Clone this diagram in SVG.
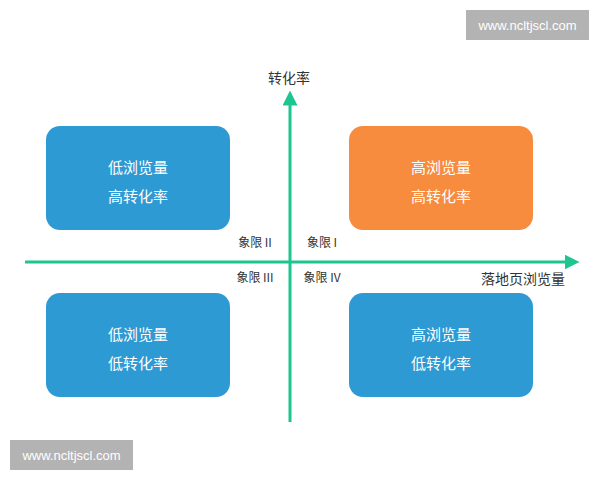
<svg xmlns="http://www.w3.org/2000/svg" width="600" height="480" viewBox="0 0 600 480">
<defs>
<style>
.box{fill:#2e9ad4}
.bt{fill:#fff;font-family:"Noto Sans CJK SC","Noto Sans",sans-serif;font-size:15px;text-anchor:middle}
.lb{fill:#333;font-family:"Noto Sans CJK SC","Noto Sans",sans-serif;font-size:12px;text-anchor:middle}
.ax{stroke:#1ec58f;stroke-width:3;fill:none}
.wm{fill:#fff;font-family:"Liberation Sans",sans-serif;font-size:13px;text-anchor:middle}
</style>
<marker id="ah" viewBox="0 0 10 10" refX="5" refY="5" markerWidth="5" markerHeight="5" orient="auto"><path d="M0,0L10,5L0,10z" fill="#1ec58f"/></marker>
</defs>
<rect width="600" height="480" fill="#fff"/>
<g id="connectors">
<line class="ax" x1="290" y1="422" x2="290" y2="98" marker-end="url(#ah)"/>
<line class="ax" x1="25" y1="262" x2="572" y2="262" marker-end="url(#ah)"/>
</g>
<g id="tl"><rect class="box" x="46" y="126" width="184" height="104" rx="14"/><text class="bt" x="138" y="173">低浏览量</text><text class="bt" x="138" y="202">高转化率</text></g>
<g id="tr"><rect x="349" y="126" width="184" height="104" rx="14" fill="#f78b3e"/><text class="bt" x="441" y="173">高浏览量</text><text class="bt" x="441" y="202">高转化率</text></g>
<g id="bl"><rect class="box" x="46" y="293" width="184" height="104" rx="14"/><text class="bt" x="138" y="340">低浏览量</text><text class="bt" x="138" y="369">低转化率</text></g>
<g id="br"><rect class="box" x="349" y="293" width="184" height="104" rx="14"/><text class="bt" x="441" y="340">高浏览量</text><text class="bt" x="441" y="369">低转化率</text></g>
<g id="labels">
<text class="lb" x="289" y="83" style="font-size:14px">转化率</text>
<text class="lb" x="523" y="284" style="font-size:14px">落地页浏览量</text>
<text class="lb" x="255" y="247">象限 II</text>
<text class="lb" x="322" y="247">象限 I</text>
<text class="lb" x="255" y="282">象限 III</text>
<text class="lb" x="322" y="282">象限 IV</text>
</g>
<g id="wm">
<rect x="466" y="10" width="123" height="30" fill="#b3b3b3"/><text class="wm" x="527.5" y="30">www.ncltjscl.com</text>
<rect x="10" y="440" width="123" height="30" fill="#b3b3b3"/><text class="wm" x="71.5" y="460">www.ncltjscl.com</text>
</g>
</svg>
